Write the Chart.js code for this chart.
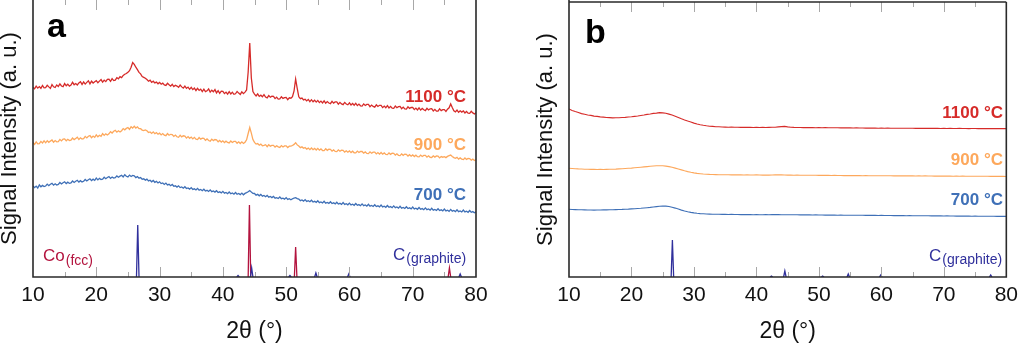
<!DOCTYPE html>
<html>
<head>
<meta charset="utf-8">
<script src="https://cdn.jsdelivr.net/npm/chart.js@4.4.1/dist/chart.umd.min.js"></script>
<style>
  html, body { margin: 0; padding: 0; background: #fff; }
  #wrap { display: flex; width: 1024px; height: 345px; overflow: hidden; }
  canvas { display: block; }
</style>
</head>
<body>
<div id="wrap">
  <canvas id="panelA" width="512" height="345"></canvas>
  <canvas id="panelB" width="512" height="345"></canvas>
</div>
<script>
// ---- Panel a: 2θ grid (degrees) ----
const angleA = [10,10.25,10.5,10.75,11,11.25,11.5,11.75,12,12.25,12.5,12.75,13,13.25,13.5,13.75,14,14.25,14.5,14.75,15,15.25,15.5,15.75,16,16.25,16.5,16.75,17,17.25,17.5,17.75,18,18.25,18.5,18.75,19,19.25,19.5,19.75,20,20.25,20.5,20.75,21,21.25,21.5,21.75,22,22.25,22.5,22.75,23,23.25,23.5,23.75,24,24.25,24.5,24.75,25,25.25,25.5,25.75,26,26.25,26.5,26.75,27,27.25,27.5,27.75,28,28.25,28.5,28.75,29,29.25,29.5,29.75,30,30.25,30.5,30.75,31,31.25,31.5,31.75,32,32.25,32.5,32.75,33,33.25,33.5,33.75,34,34.25,34.5,34.75,35,35.25,35.5,35.75,36,36.25,36.5,36.75,37,37.25,37.5,37.75,38,38.25,38.5,38.75,39,39.25,39.5,39.75,40,40.25,40.5,40.75,41,41.25,41.5,41.75,42,42.25,42.5,42.75,43,43.25,43.5,43.75,44,44.25,44.5,44.75,45,45.25,45.5,45.75,46,46.25,46.5,46.75,47,47.25,47.5,47.75,48,48.25,48.5,48.75,49,49.25,49.5,49.75,50,50.25,50.5,50.75,51,51.25,51.5,51.75,52,52.25,52.5,52.75,53,53.25,53.5,53.75,54,54.25,54.5,54.75,55,55.25,55.5,55.75,56,56.25,56.5,56.75,57,57.25,57.5,57.75,58,58.25,58.5,58.75,59,59.25,59.5,59.75,60,60.25,60.5,60.75,61,61.25,61.5,61.75,62,62.25,62.5,62.75,63,63.25,63.5,63.75,64,64.25,64.5,64.75,65,65.25,65.5,65.75,66,66.25,66.5,66.75,67,67.25,67.5,67.75,68,68.25,68.5,68.75,69,69.25,69.5,69.75,70,70.25,70.5,70.75,71,71.25,71.5,71.75,72,72.25,72.5,72.75,73,73.25,73.5,73.75,74,74.25,74.5,74.75,75,75.25,75.5,75.75,76,76.25,76.5,76.75,77,77.25,77.5,77.75,78,78.25,78.5,78.75,79,79.25,79.5,79.75,80];

// Intensity (a. u.), stacked with offsets, sample at 1100 °C
const intensityA1100 = [
  189.6,188.2,190.8,188.9, 190.4,188.7,191.5,189.2, 189.3,191.8,190.1,188.6, 192.4,190.2,189.5,192.0,
  190.6,193.1,191.0,190.3, 193.4,191.2,192.8,190.9, 191.9,194.7,192.3,193.5, 192.0,194.1,195.3,192.6,
  195.0,192.9,194.6,196.2, 193.1,195.8,194.0,195.2, 196.3,194.2,195.9,197.4, 194.8,196.9,195.4,197.6,
  197.8,195.6,198.3,196.4, 196.9,199.4,198.2,200.3, 199.4,201.6,202.8,203.5, 204.8,206.3,209.7,214.5,
  212.6,209.8,207.3,204.6, 203.1,200.4,199.6,198.7, 197.4,195.8,196.9,194.6, 195.8,194.1,194.9,193.2,
  194.6,192.8,193.9,192.0, 191.6,193.7,192.2,190.8, 192.6,190.4,191.8,190.9, 189.7,191.9,190.1,188.8,
  190.8,188.6,189.9,187.7, 189.6,187.4,188.9,186.5, 188.7,186.6,187.9,185.4, 187.8,185.3,186.2,188.1,
  184.9,186.8,185.2,187.4, 184.1,186.3,183.7,185.9, 185.6,183.4,184.9,182.8, 185.4,183.1,184.8,182.7,
  183.2,185.5,183.9,182.6, 185.2,183.4,184.9,187.0, 205.0,234.0,199.0,185.4, 182.9,181.1,183.2,180.6,
  181.8,180.2,182.3,180.0, 179.1,181.4,179.8,180.9, 180.6,178.4,179.9,177.9, 178.1,180.3,178.6,179.4,
  179.6,177.4,179.2,178.8, 180.4,186.2,198.0,188.6, 180.2,178.3,178.9,177.1, 177.8,176.1,177.6,175.4,
  177.3,175.2,176.8,174.9, 176.6,174.4,175.9,174.1, 176.2,173.8,175.4,174.0, 173.4,175.7,173.9,175.1,
  175.2,172.9,174.6,173.1, 172.4,174.6,173.0,172.2, 174.1,172.0,173.5,171.8, 173.6,171.4,172.9,171.2,
  170.9,173.1,171.5,172.6, 172.7,170.3,171.9,170.6, 169.9,172.2,170.5,171.7, 171.6,169.4,170.9,169.2,
  171.3,169.1,170.6,168.8, 168.7,171.0,169.3,170.4, 170.6,168.3,169.9,168.1, 167.9,170.2,168.6,169.5,
  169.6,167.4,168.9,167.0, 169.1,166.9,168.5,167.2, 166.4,168.7,167.0,168.2, 168.3,166.1,167.6,165.8,
  165.8,168.1,166.4,167.3, 167.4,165.6,167.8,169.2, 173.0,169.4,166.2,165.1, 166.9,164.7,166.2,164.9,
  166.1,164.0,165.5,163.9, 163.6,165.7,164.1,163.0, 164.3
];

// Sample at 900 °C
const intensityA900 = [
  134.5,132.6,135.2,133.1, 133.3,135.6,134.0,136.1, 134.2,136.3,134.7,135.9, 137.0,134.8,136.4,135.2,
  135.4,137.6,136.1,137.9, 138.1,136.2,137.7,136.5, 136.9,139.0,137.4,138.6, 139.8,137.5,139.2,138.0,
  138.3,140.6,139.1,140.8, 141.4,139.3,140.9,139.6, 142.1,140.2,141.7,140.6, 143.4,141.6,143.1,142.0,
  143.2,145.3,144.0,145.7, 146.6,144.8,146.2,145.0, 146.3,148.4,147.2,148.6, 149.5,147.6,150.3,148.9,
  150.8,149.0,150.2,148.4, 148.3,146.9,146.4,147.1, 146.2,144.5,145.0,143.6, 145.1,143.3,144.4,142.8,
  143.9,142.1,143.4,141.9, 141.3,143.4,141.8,142.7, 142.5,140.6,141.9,140.2, 139.7,141.8,140.1,141.2,
  140.9,138.9,140.4,138.7, 139.9,138.1,139.6,137.8, 137.4,139.5,137.9,138.8, 138.6,136.7,138.1,136.5,
  135.9,137.9,136.4,137.5, 137.1,135.2,136.6,134.9, 136.2,134.4,135.8,134.6, 134.1,136.0,134.5,135.6,
  135.7,133.8,135.2,133.5, 135.1,133.6,134.8,137.2, 143.5,149.5,143.8,137.4, 134.6,132.9,133.4,131.8,
  132.9,131.2,131.6,132.3, 130.3,132.2,130.8,131.6, 131.7,129.9,131.2,130.1, 129.6,131.4,130.0,131.1,
  131.2,129.5,130.8,130.9, 131.5,132.6,134.3,132.1, 130.9,129.3,130.1,128.7, 129.5,127.9,128.9,127.4,
  129.0,127.3,128.6,127.0, 128.6,126.8,128.1,126.5, 126.4,128.2,126.7,127.8, 127.6,125.8,127.1,125.6,
  125.4,127.2,125.8,126.9, 126.7,124.9,126.2,124.8, 126.1,124.4,125.8,124.2, 124.1,125.9,124.5,125.6,
  125.5,123.8,125.1,123.6, 123.4,125.2,123.8,124.9, 124.9,123.1,124.4,122.9, 124.5,122.8,124.1,122.6,
  122.4,124.1,122.7,123.8, 123.6,121.9,123.2,121.7, 121.4,123.1,121.7,122.9, 122.7,120.9,122.3,120.8,
  122.1,120.5,121.8,120.3, 120.1,121.9,120.5,121.6, 121.6,119.8,121.2,119.7, 119.5,121.2,119.9,121.0,
  120.9,119.1,120.4,119.8, 120.3,119.4,120.6,121.3, 121.9,120.6,119.4,118.7, 119.6,117.9,119.1,117.8,
  117.4,119.0,117.6,118.6, 118.4,116.8,117.9,116.6, 117.2
];

// Sample at 700 °C
const intensityA700 = [
  91.1,89.4,90.9,89.0, 92.0,90.2,91.6,90.5, 91.0,92.9,91.4,92.7, 93.6,91.8,93.2,92.0,
  92.6,94.5,93.1,94.2, 95.2,93.4,94.8,93.6, 94.1,96.0,94.6,95.8, 96.7,94.9,96.3,95.1,
  95.7,97.5,96.0,97.2, 98.2,96.4,97.8,96.6, 98.9,97.1,98.6,97.4, 97.8,99.7,98.3,99.5,
  100.4,98.6,100.0,98.9, 99.3,101.1,99.8,100.9, 101.8,100.1,102.3,100.7, 100.1,101.9,100.5,101.6,
  101.2,99.4,100.4,98.8, 99.5,97.7,98.2,96.9, 97.9,96.1,96.8,95.2, 96.5,94.7,95.6,94.0,
  95.2,93.4,94.0,92.6, 93.9,92.1,92.7,91.3, 92.5,90.7,91.2,89.9, 91.2,89.4,90.0,88.8,
  90.3,88.5,89.1,87.9, 89.4,87.6,88.2,87.0, 88.6,86.8,87.5,86.3, 87.8,86.0,86.7,85.5,
  87.1,85.3,86.0,84.9, 86.3,84.5,85.2,84.1, 85.6,83.8,84.6,83.3, 85.0,83.2,84.0,82.8,
  84.5,82.7,83.5,82.4, 83.9,82.2,83.6,84.4, 85.3,86.4,84.9,83.6, 83.5,81.8,82.6,81.2,
  82.6,80.8,81.5,80.3, 81.6,79.8,80.5,79.4, 80.6,78.8,79.4,78.5, 80.0,78.3,78.9,77.9,
  79.4,77.6,78.3,77.3, 78.2,79.0,79.3,78.4, 77.9,76.3,77.0,75.9, 77.4,75.6,76.3,75.3,
  76.8,75.0,75.7,74.6, 76.2,74.4,75.1,74.0, 75.7,73.9,74.6,73.6, 75.3,73.5,74.2,73.1,
  74.8,73.0,73.7,72.6, 74.4,72.6,73.3,72.2, 73.9,72.1,72.8,71.7, 73.5,71.7,72.4,71.3,
  73.1,71.3,72.0,70.9, 72.7,70.9,71.6,70.5, 72.3,70.5,71.2,70.1, 71.9,70.1,70.8,69.7,
  71.5,69.7,70.4,69.3, 71.1,69.3,70.0,68.9, 70.7,68.9,69.6,68.5, 70.3,68.5,69.2,68.1,
  69.9,68.1,68.8,67.7, 69.5,67.7,68.4,67.3, 69.1,67.3,68.0,66.9, 68.7,66.9,67.6,66.5,
  68.3,66.5,67.2,66.1, 67.9,66.1,66.8,65.7, 67.6,65.8,66.5,65.4, 67.2,65.4,66.1,65.0,
  66.9,65.1,65.8,64.7, 66.5,64.7,65.4,64.3, 65.3
];

// ---- Panel b: 2θ grid (degrees) ----
const angleB = [10,10.5,11,11.5,12,12.5,13,13.5,14,14.5,15,15.5,16,16.5,17,17.5,18,18.5,19,19.5,20,20.5,21,21.5,22,22.5,23,23.5,24,24.5,25,25.5,26,26.5,27,27.5,28,28.5,29,29.5,30,30.5,31,31.5,32,32.5,33,33.5,34,34.5,35,35.5,36,36.5,37,37.5,38,38.5,39,39.5,40,40.5,41,41.5,42,42.5,43,43.5,44,44.5,45,45.5,46,46.5,47,47.5,48,48.5,49,49.5,50,50.5,51,51.5,52,52.5,53,53.5,54,54.5,55,55.5,56,56.5,57,57.5,58,58.5,59,59.5,60,60.5,61,61.5,62,62.5,63,63.5,64,64.5,65,65.5,66,66.5,67,67.5,68,68.5,69,69.5,70,70.5,71,71.5,72,72.5,73,73.5,74,74.5,75,75.5,76,76.5,77,77.5,78,78.5,79,79.5,80];

const intensityB1100 = [
  168.0,166.6,165.4,164.5,163.4,162.8,162.0,161.6,160.9,160.6,
  160.1,159.9,159.5,159.4,159.1,159.3,159.2,159.5,159.6,160.0,
  160.2,160.6,161.0,161.5,162.0,162.6,163.0,163.6,163.9,164.4,
  164.1,163.8,162.9,162.0,160.8,159.5,158.2,157.0,155.9,154.9,
  153.9,153.0,152.3,151.7,151.2,150.8,150.6,150.3,150.2,150.0,
  149.9,
  149.8,149.9,149.7,149.8,149.6,149.7,149.6,149.7,149.5,149.6,
  149.5,149.6,149.5,149.6,149.7,149.8,150.1,150.4,150.6,150.1,
  149.8,149.6,149.5,149.5,149.4,149.5,149.4,149.4,149.3,149.4,
  149.3,149.4,149.3,149.2,149.3,149.2,149.1,149.2,149.1,149.1,
  149.0,149.1,149.0,149.0,148.9,149.0,148.9,148.9,148.8,148.9,
  148.8,148.9,148.8,148.8,148.7,148.8,148.7,148.8,148.7,148.7,
  148.6,148.7,148.6,148.7,148.6,148.6,148.7,148.6,148.5,148.6,
  148.5,148.6,148.5,148.5,148.6,148.5,148.5,148.4,148.5,148.5,
  148.4,148.5,148.4,148.5,148.4,148.4,148.5,148.4,148.4,148.4
];

const intensityB900 = [
  108.7,108.5,108.3,108.1,108.0,107.8,107.7,107.6,107.6,107.5,
  107.6,107.5,107.6,107.7,107.8,107.9,108.1,108.3,108.5,108.7,
  108.9,109.2,109.5,109.8,110.1,110.4,110.7,111.0,111.2,111.3,
  111.2,110.9,110.4,109.7,108.9,108.0,107.1,106.2,105.4,104.7,
  104.1,103.6,103.3,103.0,102.8,102.6,102.5,102.4,102.3,102.3,
  102.2,
  102.2,102.1,102.2,102.1,102.1,102.0,102.1,102.0,102.0,102.1,
  102.0,101.9,102.0,101.9,102.0,102.1,102.2,102.1,102.0,
  101.9,101.9,101.8,101.9,101.8,101.8,101.7,101.8,101.7,101.7,
  101.6,101.7,101.6,101.6,101.5,101.6,101.5,101.5,101.4,101.5,
  101.4,101.4,101.5,101.4,101.3,101.4,101.3,101.3,101.2,101.3,
  101.2,101.3,101.2,101.2,101.1,101.2,101.1,101.2,101.1,101.1,
  101.1,101.0,101.1,101.0,101.1,101.0,101.0,100.9,101.0,100.9,
  101.0,100.9,100.9,100.8,100.9,100.8,100.9,100.8,100.8,100.7,
  100.8,100.7,100.8,100.7,100.7,100.6,100.7,100.6,100.6,100.6,100.5
];

const intensityB700 = [
  67.7,67.5,67.4,67.3,67.2,67.1,67.0,67.0,66.9,67.0,
  67.0,67.1,67.1,67.2,67.3,67.4,67.5,67.6,67.8,67.9,
  68.1,68.3,68.5,68.7,69.0,69.3,69.6,70.0,70.4,70.8,
  71.0,70.9,70.5,69.8,68.9,67.9,66.9,66.0,65.2,64.6,
  64.1,63.7,63.4,63.2,63.0,62.9,62.8,62.7,62.7,62.6,
  62.6,
  62.5,62.6,62.5,62.5,62.4,62.5,62.4,62.4,62.3,62.4,
  62.3,62.3,62.4,62.3,62.4,62.5,62.4,62.3,62.3,
  62.2,62.3,62.2,62.2,62.1,62.2,62.1,62.1,62.0,62.1,
  62.0,62.0,61.9,62.0,61.9,61.9,61.8,61.9,61.8,61.8,
  61.8,61.7,61.8,61.7,61.7,61.6,61.7,61.6,61.6,61.5,
  61.6,61.5,61.5,61.5,61.4,61.5,61.4,61.4,61.3,61.4,
  61.3,61.3,61.2,61.3,61.2,61.2,61.1,61.2,61.1,61.1,
  61.0,61.1,61.0,61.0,60.9,61.0,60.9,60.9,60.9,60.8,
  60.9,60.8,60.8,60.7,60.8,60.7,60.7,60.6,60.7,60.6,60.6
];

// ---- Reference patterns (peak position in 2θ, relative height) ----
const coFccPos = [44.2, 51.5, 75.8];
const coFccHeight = [72, 30, 9];
const graphitePos = [26.55, 42.4, 44.55, 50.6, 54.7, 59.9, 77.5];
const graphiteHeightA = [52, 1.5, 9, 1.5, 4, 3, 3];
const graphiteHeightB = [37, 1, 6, 1, 3, 2, 2];

// ---- Tick labels along 2θ ----
const tickValues = [10, 20, 30, 40, 50, 60, 70, 80];
const seriesLabels = ['1100 °C', '900 °C', '700 °C'];

// ---- Styling ----
const FONT = '"Liberation Sans", Arial, Helvetica, sans-serif';
const COLORS = { c1100: '#d62b29', c900: '#fda85c', c700: '#3f70b7', co: '#b3133e', graphite: '#30309c' };

function toPoints(xs, ys) {
  return xs.map((x, i) => ({ x: x, y: ys[i] }));
}

function stickPoints(pos, heights) {
  const pts = [];
  pos.forEach((p, i) => {
    pts.push({ x: p - 0.2, y: 0 }, { x: p, y: heights[i] }, { x: p + 0.2, y: 0 }, { x: p + 0.2, y: null });
  });
  return pts;
}

function lineSet(points, color, width) {
  return { data: points, borderColor: color, borderWidth: width, pointRadius: 0, tension: 0, spanGaps: false, fill: false };
}

// Frame, inner ticks and panel annotations
const decoPlugin = {
  id: 'deco',
  afterDatasetsDraw(chart, args, opts) {
    const ctx = chart.ctx;
    const area = chart.chartArea;
    const xs = chart.scales.x;
    ctx.save();
    // inner tick marks, bottom and top
    ctx.strokeStyle = '#a8a8a8';
    ctx.lineWidth = 1;
    for (let v = 15; v < 80; v += 5) {
      const px = Math.round(xs.getPixelForValue(v)) + 0.5;
      const len = (v % 10 === 0) ? 10 : 5;
      ctx.beginPath();
      ctx.moveTo(px, area.bottom);
      ctx.lineTo(px, area.bottom - len);
      ctx.moveTo(px, area.top);
      ctx.lineTo(px, area.top + len);
      ctx.stroke();
    }
    // frame
    ctx.strokeStyle = '#2a2a2a';
    ctx.lineWidth = 1.6;
    ctx.beginPath();
    if (opts.topLine) {
      ctx.moveTo(area.left, area.top);
      ctx.lineTo(area.right, area.top);
    }
    ctx.moveTo(area.right, area.top);
    ctx.lineTo(area.right, area.bottom);
    ctx.lineTo(area.left, area.bottom);
    ctx.lineTo(area.left, area.top - 2);
    ctx.stroke();
    // texts
    (opts.texts || []).forEach(t => {
      ctx.font = t.font;
      ctx.fillStyle = t.color;
      ctx.textAlign = t.align || 'left';
      ctx.textBaseline = t.baseline || 'alphabetic';
      ctx.fillText(t.text, t.x, t.y);
      if (t.sub) {
        const w = ctx.measureText(t.text).width;
        ctx.font = t.subFont;
        ctx.textAlign = 'left';
        ctx.fillText(t.sub, t.x + w + 1, t.y + 3.5);
      }
    });
    ctx.restore();
  }
};

function makePanel(canvasId, datasets, cfg) {
  return new Chart(document.getElementById(canvasId), {
    type: 'line',
    data: { datasets: datasets },
    options: {
      responsive: false,
      animation: false,
      devicePixelRatio: 1,
      parsing: false,
      normalized: true,
      layout: { padding: { left: cfg.padLeft, right: cfg.padRight, top: cfg.padTop, bottom: 0 } },
      plugins: {
        legend: { display: false },
        tooltip: { enabled: false },
        deco: { topLine: cfg.topLine, texts: cfg.texts }
      },
      scales: {
        x: {
          type: 'linear', min: 10, max: 80,
          grid: { display: false, drawTicks: false },
          border: { display: false },
          afterBuildTicks: s => { s.ticks = tickValues.map(v => ({ value: v })); },
          ticks: { padding: 6, color: '#111', maxRotation: 0, font: { family: FONT, size: 21 } },
          title: { display: true, text: '2θ (°)', color: '#111', font: { family: FONT, size: 23 }, padding: { top: 0, bottom: 0 } },
          afterFit: s => { s.height = 68; }
        },
        y: {
          type: 'linear', min: 0, max: cfg.yMax,
          grid: { display: false, drawTicks: false },
          border: { display: false },
          ticks: { display: false },
          title: { display: true, text: 'Signal Intensity (a. u.)', color: '#111', font: { family: FONT, size: 22 }, padding: { top: -3, bottom: 0 } },
          afterFit: s => { s.width = 33; }
        }
      }
    },
    plugins: [decoPlugin]
  });
}

const boldLabel = 'bold 17px ' + FONT;
const markFont = 'bold 34px ' + FONT;

makePanel('panelA', [
  lineSet(toPoints(angleA, intensityA1100), COLORS.c1100, 1.3),
  lineSet(toPoints(angleA, intensityA900), COLORS.c900, 1.3),
  lineSet(toPoints(angleA, intensityA700), COLORS.c700, 1.3),
  lineSet(stickPoints(graphitePos, graphiteHeightA), COLORS.graphite, 1.3),
  lineSet(stickPoints(coFccPos, coFccHeight), COLORS.co, 1.3)
], {
  padLeft: 0, padRight: 36, padTop: 0, yMax: 277, topLine: false,
  texts: [
    { text: 'a', x: 47, y: 37, font: markFont, color: '#000' },
    { text: seriesLabels[0], x: 466, y: 97, font: boldLabel, color: COLORS.c1100, align: 'right', baseline: 'middle' },
    { text: seriesLabels[1], x: 466, y: 145, font: boldLabel, color: COLORS.c900, align: 'right', baseline: 'middle' },
    { text: seriesLabels[2], x: 466, y: 195, font: boldLabel, color: COLORS.c700, align: 'right', baseline: 'middle' },
    { text: 'Co', x: 43, y: 261, font: '17px ' + FONT, color: COLORS.co, sub: '(fcc)', subFont: '14px ' + FONT },
    { text: 'C', x: 393, y: 259.5, font: '17px ' + FONT, color: COLORS.graphite, sub: '(graphite)', subFont: '14px ' + FONT }
  ]
});

makePanel('panelB', [
  lineSet(toPoints(angleB, intensityB1100), COLORS.c1100, 1.1),
  lineSet(toPoints(angleB, intensityB900), COLORS.c900, 1.1),
  lineSet(toPoints(angleB, intensityB700), COLORS.c700, 1.1),
  lineSet(stickPoints(graphitePos, graphiteHeightB), COLORS.graphite, 1.3)
], {
  padLeft: 24, padRight: 11, padTop: 2, yMax: 275, topLine: true,
  texts: [
    { text: 'b', x: 73, y: 43, font: markFont, color: '#000' },
    { text: seriesLabels[0], x: 491, y: 113, font: boldLabel, color: COLORS.c1100, align: 'right', baseline: 'middle' },
    { text: seriesLabels[1], x: 491, y: 160, font: boldLabel, color: COLORS.c900, align: 'right', baseline: 'middle' },
    { text: seriesLabels[2], x: 491, y: 200, font: boldLabel, color: COLORS.c700, align: 'right', baseline: 'middle' },
    { text: 'C', x: 417, y: 260.5, font: '17px ' + FONT, color: COLORS.graphite, sub: '(graphite)', subFont: '14px ' + FONT }
  ]
});
</script>
</body>
</html>
